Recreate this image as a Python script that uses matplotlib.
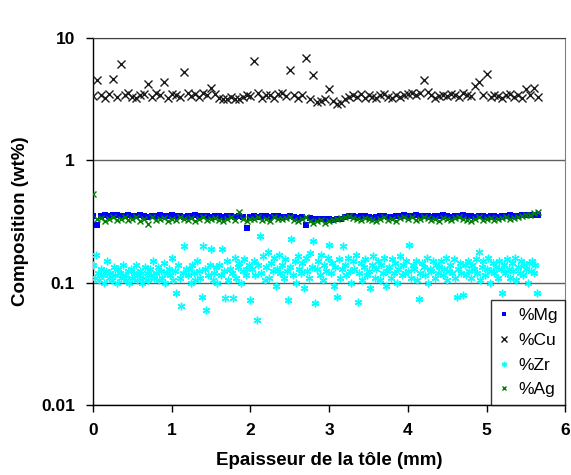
import numpy as np
import matplotlib
matplotlib.use("Agg")
import matplotlib.pyplot as plt
from matplotlib.ticker import FixedLocator, FixedFormatter, NullLocator

plt.rcParams['font.family'] = ['Liberation Sans', 'DejaVu Sans']

# measurement grid (mm): profiles sampled every 0.05 mm, Zr every 0.02 mm
step_main = 0.05
step_zr = 0.02

mg = [0.35, 0.296, 0.35, 0.355, 0.35, 0.36, 0.355, 0.35, 0.35, 0.355,
      0.35, 0.35, 0.355, 0.35, 0.345, 0.35, 0.35, 0.355, 0.35, 0.35,
      0.355, 0.35, 0.35, 0.345, 0.35, 0.35, 0.355, 0.35, 0.35, 0.35,
      0.345, 0.35, 0.35, 0.345, 0.35, 0.35, 0.345, 0.35, 0.345, 0.278,
      0.345, 0.35, 0.345, 0.35, 0.35, 0.345, 0.35, 0.35, 0.345, 0.345,
      0.35, 0.345, 0.34, 0.345, 0.294, 0.34, 0.335, 0.33, 0.335, 0.33,
      0.33, 0.325, 0.33, 0.335, 0.345, 0.35, 0.35, 0.345, 0.35, 0.35,
      0.345, 0.34, 0.345, 0.35, 0.35, 0.345, 0.345, 0.35, 0.35, 0.355,
      0.35, 0.35, 0.355, 0.35, 0.35, 0.35, 0.345, 0.35, 0.35, 0.355,
      0.35, 0.345, 0.35, 0.35, 0.355, 0.35, 0.35, 0.345, 0.35, 0.35,
      0.345, 0.35, 0.35, 0.345, 0.35, 0.35, 0.355, 0.35, 0.35, 0.355,
      0.355, 0.36, 0.36, 0.355]

cu = [3.35, 4.5, 3.45, 3.25, 3.5, 4.6, 3.3, 6.1, 3.45, 3.55,
      3.3, 3.25, 3.45, 3.5, 4.2, 3.3, 3.55, 3.4, 4.35, 3.25,
      3.5, 3.4, 3.3, 5.25, 3.55, 3.35, 3.5, 3.3, 3.55, 3.45,
      3.9, 3.5, 3.25, 3.15, 3.2, 3.3, 3.15, 3.2, 3.3, 3.4,
      3.35, 6.5, 3.55, 3.25, 3.4, 3.45, 3.25, 3.5, 3.55, 3.35,
      5.45, 3.4, 3.25, 3.45, 6.9, 3.2, 4.95, 3.0, 3.05, 3.15,
      3.85, 3.05, 2.9, 2.95, 3.15, 3.3, 3.45, 3.3, 3.5, 3.25,
      3.45, 3.3, 3.25, 3.45, 3.5, 3.3, 3.25, 3.45, 3.3, 3.4,
      3.5, 3.55, 3.4, 3.55, 4.5, 3.6, 3.45, 3.25, 3.35, 3.45,
      3.35, 3.5, 3.4, 3.3, 3.55, 3.45, 3.35, 4.05, 4.4, 3.45,
      5.1, 3.3, 3.45, 3.35, 3.25, 3.45, 3.5, 3.3, 3.45, 3.25,
      3.85, 3.4, 3.92, 3.3]

zr = [0.14, 0.11, 0.17, 0.12, 0.105, 0.13, 0.115, 0.10, 0.125, 0.15,
      0.11, 0.12, 0.105, 0.135, 0.115, 0.10, 0.13, 0.12, 0.11, 0.14,
      0.115, 0.105, 0.125, 0.10, 0.13, 0.11, 0.12, 0.14, 0.105, 0.115,
      0.125, 0.10, 0.11, 0.135, 0.12, 0.105, 0.13, 0.115, 0.15, 0.11,
      0.12, 0.135, 0.105, 0.125, 0.11, 0.145, 0.10, 0.12, 0.13, 0.115,
      0.16, 0.105, 0.125, 0.082, 0.14, 0.11, 0.065, 0.12, 0.20, 0.13,
      0.115, 0.13, 0.10, 0.14, 0.12, 0.105, 0.15, 0.125, 0.11, 0.077,
      0.20, 0.13, 0.06, 0.115, 0.14, 0.19, 0.105, 0.12, 0.135, 0.10,
      0.14, 0.115, 0.19, 0.125, 0.075, 0.15, 0.105, 0.13, 0.12, 0.075,
      0.16, 0.11, 0.135, 0.145, 0.10, 0.125, 0.155, 0.115, 0.13, 0.14,
      0.072, 0.13, 0.15, 0.115, 0.05, 0.14, 0.24, 0.12, 0.165, 0.105,
      0.135, 0.18, 0.11, 0.145, 0.125, 0.16, 0.095, 0.13, 0.17, 0.12,
      0.14, 0.11, 0.155, 0.125, 0.072, 0.135, 0.226, 0.115, 0.15, 0.10,
      0.165, 0.13, 0.12, 0.145, 0.09, 0.16, 0.125, 0.11, 0.175, 0.135,
      0.22, 0.069, 0.13, 0.15, 0.115, 0.17, 0.105, 0.14, 0.125, 0.16,
      0.205, 0.12, 0.145, 0.095, 0.135, 0.076, 0.155, 0.11, 0.13, 0.20,
      0.14, 0.115, 0.16, 0.125, 0.10, 0.15, 0.13, 0.17, 0.07, 0.12,
      0.145, 0.105, 0.135, 0.155, 0.115, 0.125, 0.09, 0.14, 0.165, 0.11,
      0.13, 0.15, 0.105, 0.14, 0.12, 0.16, 0.095, 0.125, 0.135, 0.11,
      0.155, 0.12, 0.145, 0.10, 0.13, 0.165, 0.115, 0.14, 0.12, 0.15,
      0.125, 0.205, 0.11, 0.14, 0.13, 0.15, 0.105, 0.074, 0.12, 0.145,
      0.135, 0.115, 0.16, 0.10, 0.13, 0.125, 0.15, 0.11, 0.14, 0.12,
      0.135, 0.15, 0.115, 0.13, 0.16, 0.105, 0.125, 0.14, 0.12, 0.155,
      0.11, 0.077, 0.13, 0.145, 0.12, 0.079, 0.14, 0.115, 0.15, 0.125,
      0.11, 0.14, 0.13, 0.155, 0.12, 0.18, 0.105, 0.135, 0.15, 0.115,
      0.13, 0.16, 0.10, 0.125, 0.145, 0.12, 0.135, 0.11, 0.15, 0.13,
      0.082, 0.14, 0.12, 0.155, 0.13, 0.11, 0.145, 0.125, 0.16, 0.105,
      0.135, 0.12, 0.15, 0.115, 0.14, 0.13, 0.10, 0.145, 0.125, 0.15,
      0.12, 0.14, 0.082]

ag = [0.53, 0.33, 0.34, 0.32, 0.335, 0.345, 0.325, 0.335, 0.345, 0.325,
      0.335, 0.345, 0.32, 0.335, 0.30, 0.345, 0.325, 0.335, 0.34, 0.32,
      0.335, 0.325, 0.345, 0.335, 0.325, 0.34, 0.32, 0.335, 0.345, 0.325,
      0.335, 0.34, 0.325, 0.32, 0.335, 0.345, 0.325, 0.38, 0.335, 0.32,
      0.33, 0.335, 0.345, 0.325, 0.335, 0.32, 0.345, 0.33, 0.335, 0.34,
      0.345, 0.325, 0.32, 0.335, 0.345, 0.32, 0.31, 0.32, 0.325, 0.31,
      0.32, 0.325, 0.33, 0.34, 0.345, 0.35, 0.34, 0.335, 0.325, 0.34,
      0.335, 0.325, 0.32, 0.335, 0.345, 0.325, 0.335, 0.32, 0.34, 0.345,
      0.335, 0.345, 0.325, 0.335, 0.345, 0.34, 0.325, 0.335, 0.32, 0.34,
      0.335, 0.325, 0.34, 0.345, 0.335, 0.325, 0.32, 0.335, 0.345, 0.325,
      0.335, 0.34, 0.325, 0.335, 0.34, 0.345, 0.335, 0.34, 0.345, 0.35,
      0.355, 0.36, 0.37, 0.38]

x_main = np.arange(len(cu)) * step_main
x_zr = np.arange(len(zr)) * step_zr

fig = plt.figure(figsize=(5.71, 4.75), dpi=100)
ax = fig.add_axes([0.163, 0.147, 0.827, 0.773])

# draw order like the original workbook: Mg, Cu, Zr, Ag on top
ax.plot(x_main, mg, 's', color='#0000FF', markersize=4.8, markeredgewidth=0,
        label='%Mg', zorder=3)
ax.plot(x_main, cu, 'x', color='#1a1a1a', markersize=5.2, markeredgewidth=1.0,
        label='%Cu', zorder=3)
ax.plot(x_zr, zr, marker=(6, 2, 0), linestyle='none', color='#00FFFF',
        markersize=5.5, markeredgewidth=1.0, label='%Zr', zorder=3)
ax.plot(x_main, ag, 'x', color='#008000', markersize=5, markeredgewidth=1.0,
        label='%Ag', zorder=4)

ax.set_yscale('log')
ax.set_ylim(0.01, 10)
ax.set_xlim(0, 6)

ax.yaxis.set_major_locator(FixedLocator([0.01, 0.1, 1, 10]))
ax.yaxis.set_major_formatter(FixedFormatter(['0.01', '0.1', '1', '10']))
ax.yaxis.set_minor_locator(NullLocator())
ax.set_xticks(range(7))

ax.grid(axis='y', which='major', color='#606060', linewidth=1.0, zorder=1)
ax.set_axisbelow(True)

for s in ['left', 'bottom']:
    ax.spines[s].set_color('black')
    ax.spines[s].set_linewidth(1.0)
ax.spines['top'].set_color('#404040')
ax.spines['right'].set_color('#808080')

ax.tick_params(axis='both', direction='out', length=5, width=1, color='black',
               labelsize=12.5, pad=8)
for lbl in ax.get_xticklabels() + ax.get_yticklabels():
    lbl.set_fontweight('bold')

ax.set_xlabel('Epaisseur de la tôle (mm)', fontsize=13.5, fontweight='bold', labelpad=10)
ax.set_ylabel('Composition (wt%)', fontsize=13.5, fontweight='bold', labelpad=9)

leg = ax.legend(loc='lower right', borderaxespad=0, fontsize=12.5, frameon=True,
                fancybox=False, edgecolor='black', handlelength=0.6,
                handletextpad=0.5, labelspacing=0.55, borderpad=0.45,
                markerscale=0.7)
leg.get_frame().set_linewidth(1.0)

fig.savefig('out.png', dpi=100)
